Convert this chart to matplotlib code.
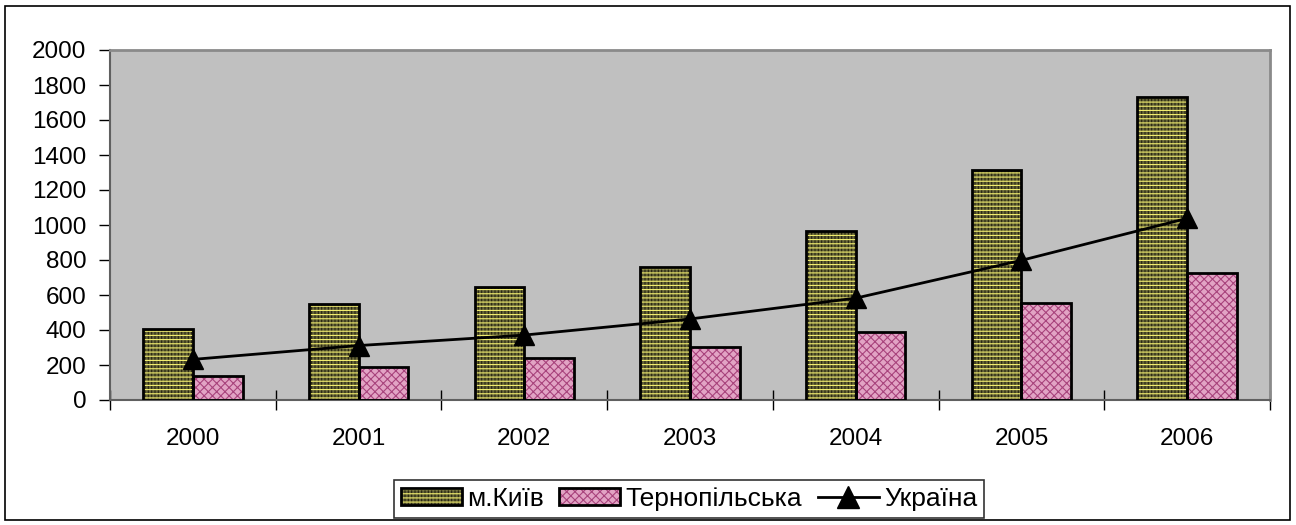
import numpy as np
import matplotlib
matplotlib.use("Agg")
import matplotlib.pyplot as plt
from matplotlib.patches import Patch, Rectangle
from matplotlib.lines import Line2D
from matplotlib.legend_handler import HandlerTuple

# values
years = ["2000", "2001", "2002", "2003", "2004", "2005", "2006"]
kyiv = [405, 550, 645, 762, 967, 1314, 1730]
ternopil = [137, 190, 238, 303, 388, 552, 724]
ukraine = [232, 311, 371, 463, 582, 798, 1038]
yticks = [0, 200, 400, 600, 800, 1000, 1200, 1400, 1600, 1800, 2000]

plt.rcParams["font.family"] = ["Liberation Sans", "DejaVu Sans"]
plt.rcParams["hatch.linewidth"] = 0.8

KYIV_FACE = "#66643a"
KYIV_VLINE = "#25240f"
KYIV_HLINE = "#f4f070"
TERN_FACE = "#e2a3c4"
TERN_HATCH = "#a8437c"
FS = 17.5

fig = plt.figure(figsize=(12.96, 5.25), dpi=100)
ax = fig.add_axes([110 / 1296, 125 / 525, 1160 / 1296, 350 / 525])
ax.set_facecolor("#c0c0c0")

x = np.arange(len(years))
w = 0.3

# Kyiv bars: olive base, dark vertical stripes, yellow horizontal lines, black edge
ax.bar(x - w / 2, kyiv, w, color=KYIV_FACE, edgecolor=KYIV_VLINE, linewidth=0,
       hatch="|||||", zorder=2)
ax.bar(x - w / 2, kyiv, w, fill=False, edgecolor=KYIV_HLINE, linewidth=0,
       hatch="----", zorder=2)
ax.bar(x - w / 2, kyiv, w, fill=False, edgecolor="black", linewidth=2, zorder=3)

# Ternopil bars: pink checkered look
ax.bar(x + w / 2, ternopil, w, color=TERN_FACE, edgecolor=TERN_HATCH, linewidth=0,
       hatch="xxxx", zorder=2)
ax.bar(x + w / 2, ternopil, w, fill=False, edgecolor="black", linewidth=2, zorder=3)

ax.plot(x, ukraine, color="black", linewidth=2, marker="^", markersize=15,
        zorder=4)

ax.set_xlim(-0.5, len(years) - 0.5)
ax.set_ylim(0, 2000)
ax.set_yticks(yticks)
ax.set_yticklabels([str(v) for v in yticks], fontsize=FS)
ax.set_xticks(x)
ax.set_xticklabels(years, fontsize=FS)
ax.set_xticks(np.arange(-0.5, len(years)), minor=True)
ax.tick_params(axis="x", which="major", length=0, pad=20)
ax.tick_params(axis="x", which="minor", length=14, width=1, color="black",
               direction="inout")
ax.tick_params(axis="y", length=8, width=1, color="black", pad=9)

for s in ["left", "bottom"]:
    ax.spines[s].set_color("#606060")
    ax.spines[s].set_linewidth(1.5)
for s in ["top", "right"]:
    ax.spines[s].set_color("#8a8a8a")
    ax.spines[s].set_linewidth(2)

# legend with layered patch handles
k_handle = (Patch(facecolor=KYIV_FACE, edgecolor=KYIV_VLINE, linewidth=0, hatch="|||||"),
            Patch(fill=False, edgecolor=KYIV_HLINE, linewidth=0, hatch="----"),
            Patch(fill=False, edgecolor="black", linewidth=2))
t_handle = (Patch(facecolor=TERN_FACE, edgecolor=TERN_HATCH, linewidth=0, hatch="xxxx"),
            Patch(fill=False, edgecolor="black", linewidth=2))
u_handle = Line2D([], [], color="black", linewidth=2, marker="^", markersize=16)

leg = fig.legend([k_handle, t_handle, u_handle], ["м.Київ", "Тернопільська", "Україна"],
                 handler_map={tuple: HandlerTuple(ndivide=1)},
                 loc="center", bbox_to_anchor=(689 / 1296, (525 - 499) / 525),
                 ncol=3, fontsize=19, frameon=True, fancybox=False,
                 edgecolor="black", handlelength=2.3, handleheight=0.6,
                 handletextpad=0.2, columnspacing=0.6, borderpad=0.25,
                 borderaxespad=0)
leg.get_frame().set_linewidth(1.2)

# outer chart border
fig.patches.append(Rectangle((5 / 1296, 5 / 525), 1285 / 1296, 514 / 525,
                             transform=fig.transFigure, fill=False,
                             edgecolor="black", linewidth=1.2))

fig.savefig("out.png", dpi=100)
